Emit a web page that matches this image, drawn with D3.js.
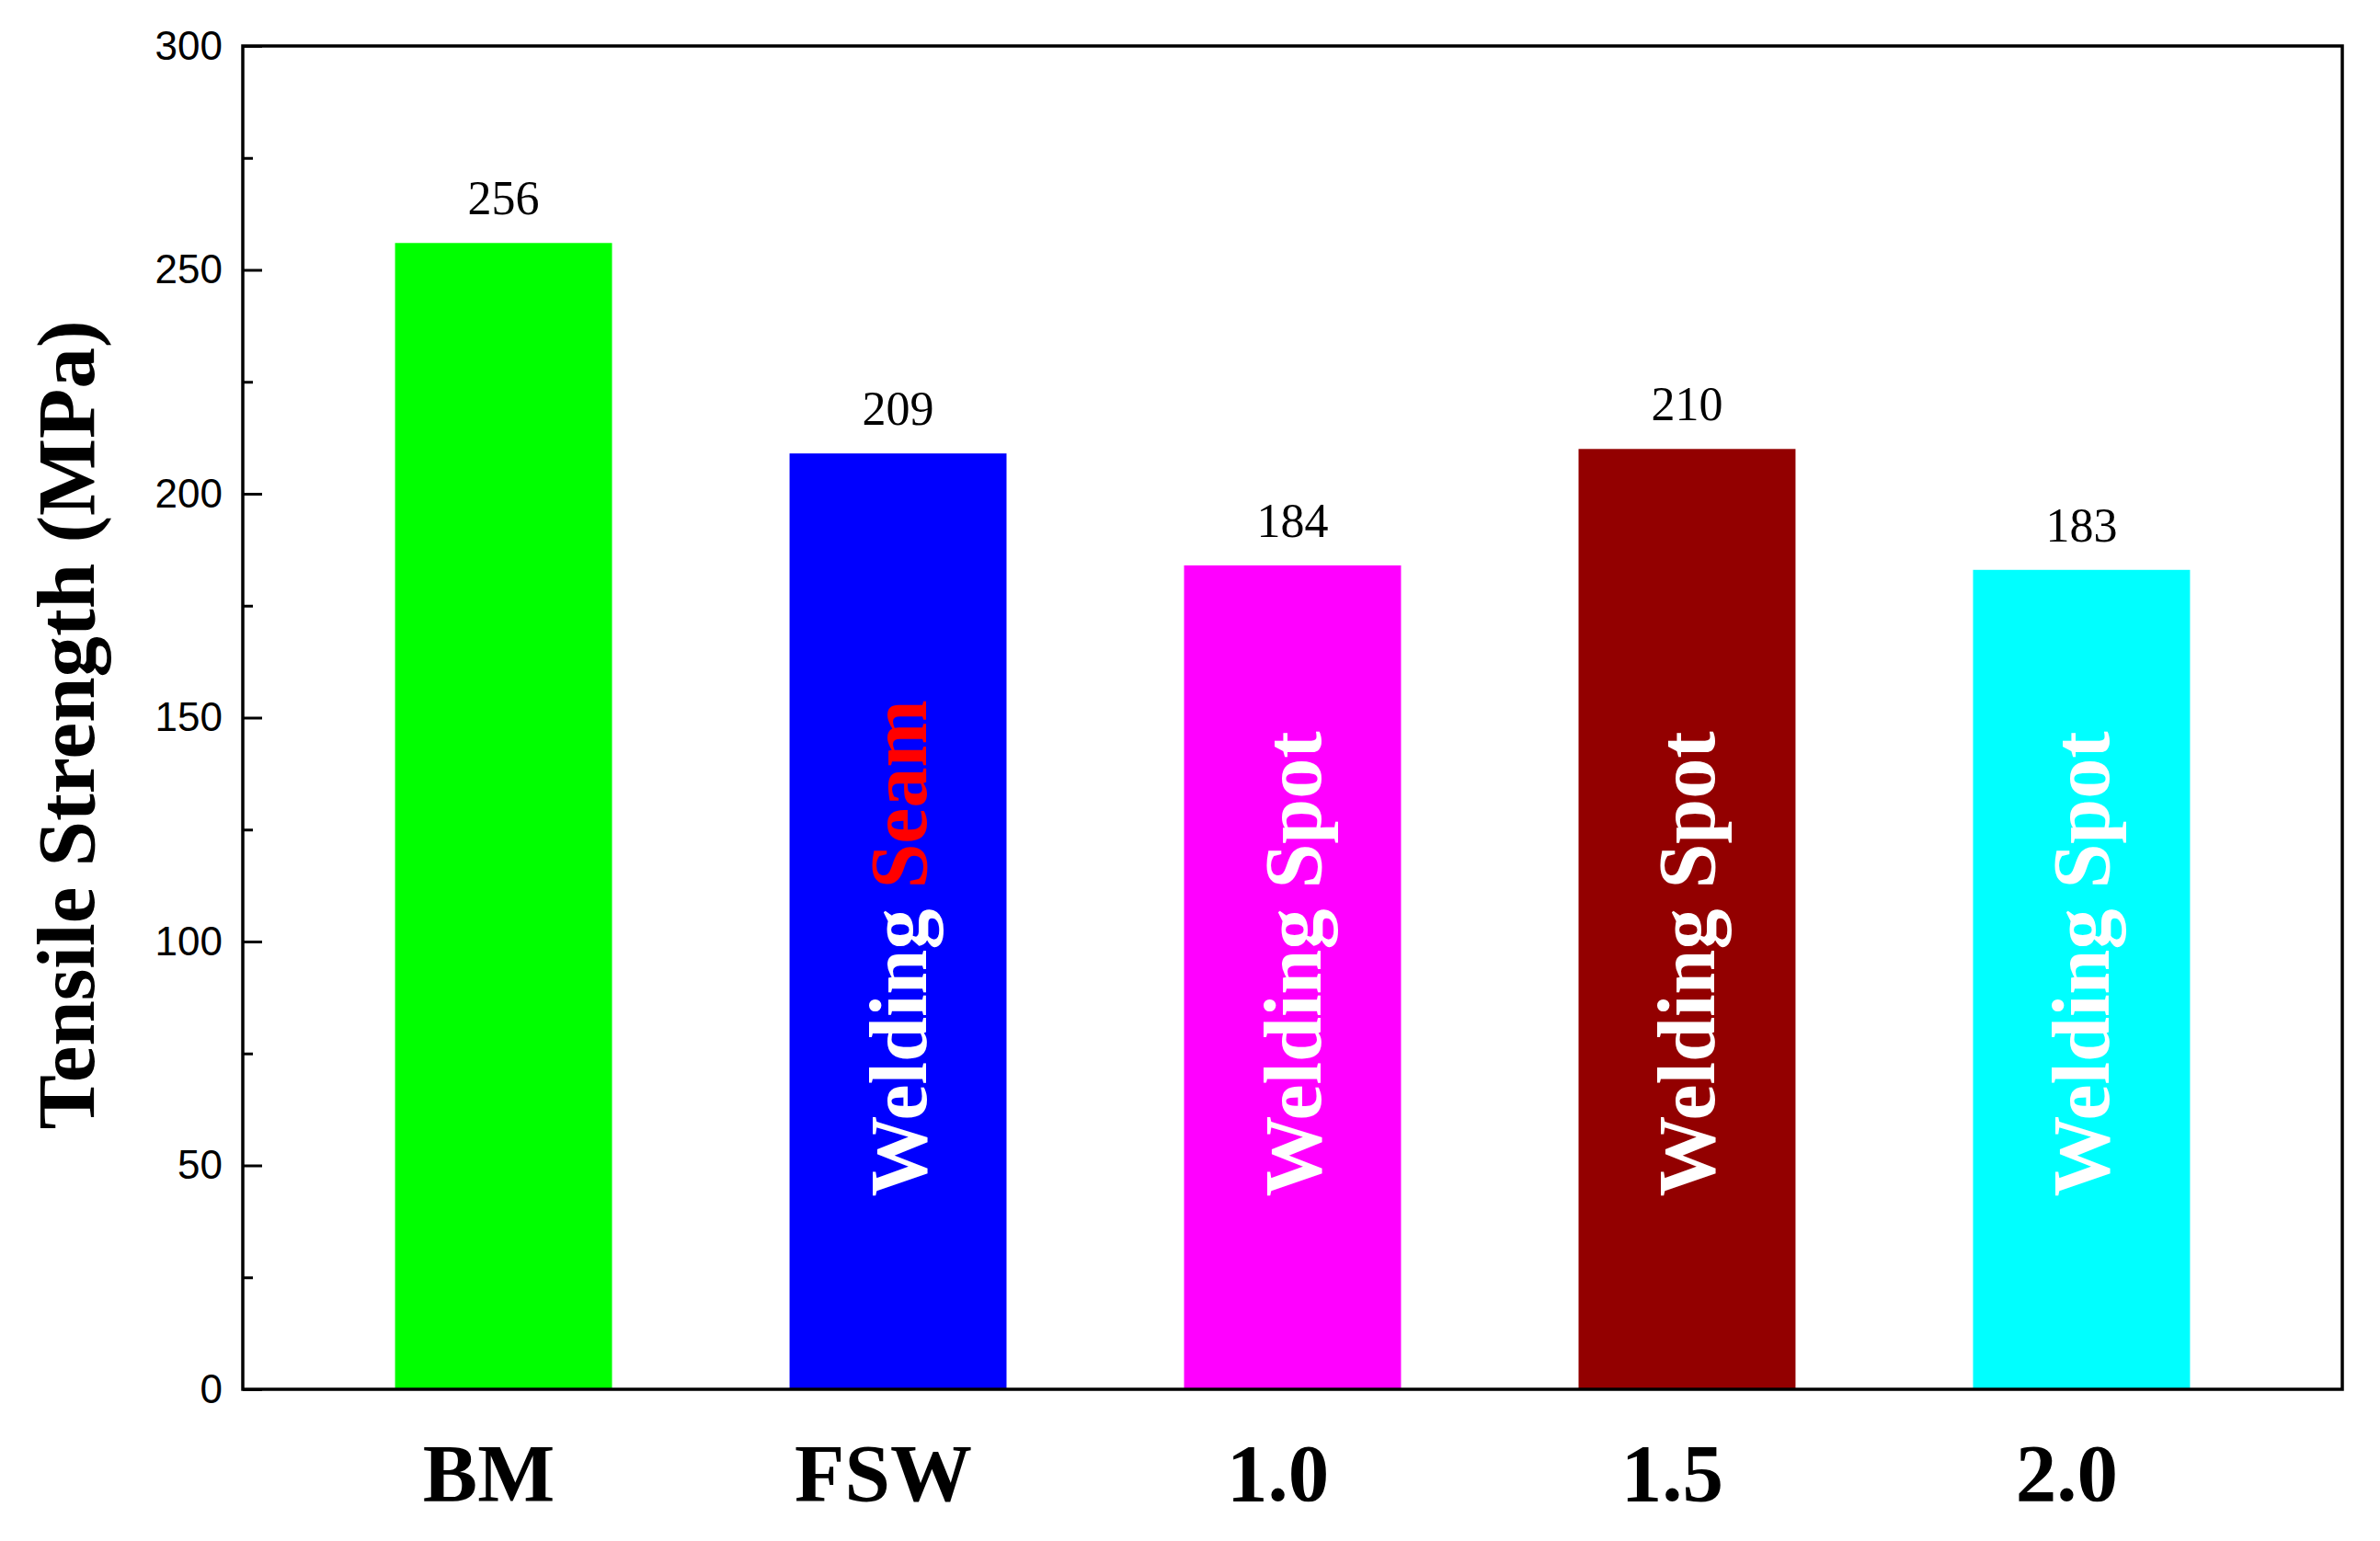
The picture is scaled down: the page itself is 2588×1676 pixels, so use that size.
<!DOCTYPE html>
<html>
<head>
<meta charset="utf-8">
<script src="https://cdn.jsdelivr.net/npm/d3@7/dist/d3.min.js"></script>
<style>
  body { margin: 0; background: #fff; }
  svg { display: block; }
</style>
</head>
<body>
<svg id="chart" width="2588" height="1676"></svg>
<script>
const categories = ["BM", "FSW", "1.0", "1.5", "2.0"];
const values = [256, 209, 184, 210, 183];
const barColors = ["#00ff00", "#0000ff", "#ff00ff", "#930000", "#00ffff"];
const innerFirst = ["", "Welding ", "Welding ", "Welding ", "Welding "];
const innerSecond = ["", "Seam", "Spot", "Spot", "Spot"];
const innerSecondColors = ["#ffffff", "#ff0000", "#ffffff", "#ffffff", "#ffffff"];
const yMajorTicks = [0, 50, 100, 150, 200, 250, 300];
const yMinorTicks = [25, 75, 125, 175, 225, 275];
const yTitle = "Tensile Strength (MPa)";

const W = 2588, H = 1676;
const margin = { top: 50, right: 41, bottom: 165, left: 264 };
const iw = W - margin.left - margin.right;
const ih = H - margin.top - margin.bottom;

const svg = d3.select("#chart");
const g = svg.append("g").attr("transform", `translate(${margin.left},${margin.top})`);

const x = d3.scaleBand().domain(categories).range([0, iw]).paddingInner(0.45).paddingOuter(0.386);
const y = d3.scaleLinear().domain([0, 300]).range([ih, 0]);

// bars
g.selectAll("rect.bar").data(categories).join("rect")
  .attr("class", "bar")
  .attr("x", d => x(d))
  .attr("width", x.bandwidth())
  .attr("y", (d, i) => y(values[i]))
  .attr("height", (d, i) => y(0) - y(values[i]))
  .attr("fill", (d, i) => barColors[i]);

// value labels
g.selectAll("text.val").data(categories).join("text")
  .attr("class", "val")
  .attr("x", d => x(d) + x.bandwidth() / 2)
  .attr("y", (d, i) => y(values[i]) - 31)
  .attr("text-anchor", "middle")
  .style("font-family", "'Liberation Serif', 'Times New Roman', serif")
  .style("font-size", "52px")
  .attr("fill", "#000")
  .text((d, i) => values[i]);

// inner rotated labels
const inner = g.selectAll("text.inner").data(categories.filter((d, i) => innerFirst[i] || innerSecond[i])).join("text")
  .attr("class", "inner")
  .attr("transform", d => `translate(${x(d) + x.bandwidth() / 2 + 30},${y(43)}) rotate(-90)`)
  .attr("text-anchor", "start")
  .style("font-family", "'Liberation Serif', 'Times New Roman', serif")
  .style("font-size", "88px")
  .style("font-weight", "bold");
inner.each(function(d) {
  const i = categories.indexOf(d);
  const t = d3.select(this);
  t.append("tspan").attr("fill", "#ffffff").style("white-space", "pre").text(innerFirst[i]);
  t.append("tspan").attr("fill", innerSecondColors[i]).text(innerSecond[i]);
});

// y axis major ticks (inward)
const yAxis = g.append("g")
  .call(d3.axisLeft(y).tickValues(yMajorTicks).tickSize(-21).tickPadding(22).tickFormat(d3.format("d")));
yAxis.select(".domain").remove();
yAxis.selectAll(".tick line").attr("stroke", "#000").attr("stroke-width", 3);
yAxis.selectAll(".tick text")
  .style("font-family", "'Liberation Sans', Arial, sans-serif")
  .style("font-size", "44px")
  .attr("fill", "#000");

// minor ticks
const yMinor = g.append("g")
  .call(d3.axisLeft(y).tickValues(yMinorTicks).tickSize(-11).tickFormat(""));
yMinor.select(".domain").remove();
yMinor.selectAll(".tick line").attr("stroke", "#000").attr("stroke-width", 3);

// frame
g.append("rect")
  .attr("x", 0).attr("y", 0).attr("width", iw).attr("height", ih)
  .attr("fill", "none").attr("stroke", "#000").attr("stroke-width", 3.5);

// x category labels
g.selectAll("text.cat").data(categories).join("text")
  .attr("class", "cat")
  .attr("x", d => x(d) + x.bandwidth() / 2 - 16)
  .attr("y", ih + 121)
  .attr("text-anchor", "middle")
  .style("font-family", "'Liberation Serif', 'Times New Roman', serif")
  .style("font-size", "89px")
  .style("font-weight", "bold")
  .attr("fill", "#000")
  .text(d => d);

// y title
svg.append("text")
  .attr("transform", `translate(102,${margin.top + ih / 2 + 8}) rotate(-90)`)
  .attr("text-anchor", "middle")
  .style("font-family", "'Liberation Serif', 'Times New Roman', serif")
  .style("font-size", "89px")
  .style("font-weight", "bold")
  .attr("fill", "#000")
  .text(yTitle);
</script>
</body>
</html>
